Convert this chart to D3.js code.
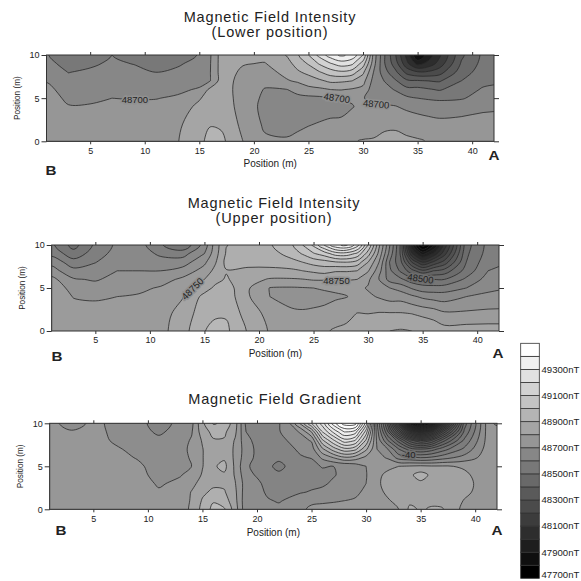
<!DOCTYPE html>
<html>
<head>
<meta charset="utf-8">
<script src="https://cdn.jsdelivr.net/npm/d3@7"></script>
<style>
  html, body { margin: 0; padding: 0; background: #fff; overflow: hidden; }
  text { font-family: "Liberation Sans", Arial, sans-serif; fill: #222; }
</style>
</head>
<body>
<svg id="chart" width="581" height="581"></svg>
<script>
// data (columns run from the top of the panel, y=10, down to y=0)
const xTicks = [5, 10, 15, 20, 25, 30, 35, 40];
const yTicks = [0, 5, 10];
const legendLabels = [47700, 47900, 48100, 48300, 48500, 48700, 48900, 49100, 49300];

const intensityX = [1, 3, 5, 7, 9, 11, 13, 15, 16, 17, 19, 21, 23, 24, 25, 26, 27, 28, 29, 30, 31, 32, 33, 34, 35, 36, 37, 39, 41, 43];
const intensityY = [10, 9, 8, 7, 6, 5, 4, 2, 0];

const lowerField = [
  [48610, 48635, 48660, 48695, 48725, 48735, 48750, 48770, 48780],
  [48510, 48560, 48598, 48630, 48660, 48685, 48705, 48740, 48760],
  [48540, 48585, 48615, 48640, 48665, 48690, 48705, 48735, 48750],
  [48600, 48615, 48640, 48660, 48680, 48700, 48720, 48745, 48755],
  [48580, 48597, 48625, 48650, 48675, 48697, 48715, 48745, 48760],
  [48540, 48570, 48600, 48635, 48670, 48697, 48720, 48755, 48775],
  [48560, 48590, 48615, 48650, 48685, 48710, 48745, 48780, 48795],
  [48605, 48625, 48650, 48675, 48708, 48790, 48825, 48865, 48880],
  [48690, 48695, 48697, 48698, 48825, 48845, 48855, 48895, 48925],
  [48840, 48840, 48840, 48840, 48845, 48850, 48860, 48885, 48925],
  [48815, 48805, 48785, 48770, 48760, 48760, 48760, 48775, 48800],
  [48830, 48795, 48760, 48725, 48695, 48680, 48670, 48685, 48715],
  [48905, 48865, 48830, 48790, 48698, 48680, 48660, 48670, 48710],
  [48990, 48935, 48885, 48815, 48725, 48680, 48660, 48680, 48725],
  [49100, 49010, 48925, 48850, 48770, 48675, 48665, 48695, 48735],
  [49230, 49110, 48990, 48880, 48780, 48680, 48665, 48705, 48745],
  [49350, 49190, 49050, 48920, 48800, 48700, 48670, 48715, 48755],
  [49420, 49250, 49080, 48915, 48805, 48710, 48670, 48720, 48760],
  [49370, 49220, 49050, 48900, 48790, 48710, 48695, 48745, 48795],
  [49200, 49050, 48920, 48835, 48770, 48705, 48725, 48760, 48805],
  [48750, 48730, 48690, 48660, 48640, 48670, 48715, 48780, 48805],
  [48500, 48500, 48535, 48595, 48635, 48670, 48710, 48785, 48820],
  [48300, 48340, 48420, 48510, 48590, 48655, 48705, 48785, 48825],
  [48070, 48130, 48270, 48420, 48530, 48620, 48680, 48770, 48815],
  [47790, 47970, 48215, 48410, 48530, 48600, 48665, 48750, 48810],
  [47950, 48030, 48220, 48400, 48510, 48590, 48650, 48740, 48795],
  [48080, 48140, 48260, 48390, 48490, 48585, 48640, 48730, 48780],
  [48380, 48410, 48450, 48500, 48555, 48590, 48660, 48730, 48770],
  [48520, 48530, 48550, 48575, 48610, 48640, 48685, 48730, 48770],
  [48555, 48560, 48570, 48590, 48620, 48650, 48690, 48730, 48770]
];

const upperField = [
  [48560, 48585, 48635, 48670, 48715, 48735, 48745, 48745, 48745],
  [48480, 48520, 48570, 48615, 48655, 48680, 48697, 48730, 48745],
  [48560, 48575, 48598, 48625, 48645, 48670, 48690, 48730, 48745],
  [48610, 48620, 48635, 48650, 48665, 48685, 48700, 48730, 48745],
  [48620, 48625, 48640, 48650, 48670, 48690, 48705, 48730, 48740],
  [48555, 48590, 48620, 48650, 48680, 48705, 48720, 48735, 48735],
  [48505, 48580, 48625, 48670, 48710, 48730, 48748, 48765, 48780],
  [48620, 48650, 48690, 48720, 48750, 48780, 48815, 48835, 48848],
  [48725, 48730, 48745, 48765, 48785, 48810, 48830, 48842, 48868],
  [48798, 48805, 48815, 48797, 48805, 48825, 48830, 48845, 48860],
  [48825, 48820, 48815, 48790, 48770, 48755, 48755, 48775, 48795],
  [48845, 48830, 48815, 48790, 48745, 48698, 48700, 48735, 48745],
  [48895, 48870, 48835, 48790, 48745, 48695, 48690, 48705, 48735],
  [48950, 48905, 48850, 48800, 48748, 48697, 48685, 48705, 48735],
  [49010, 48945, 48870, 48810, 48755, 48700, 48685, 48708, 48740],
  [49105, 48975, 48880, 48820, 48755, 48705, 48688, 48712, 48745],
  [49190, 49025, 48895, 48805, 48755, 48710, 48692, 48730, 48755],
  [49210, 49030, 48900, 48805, 48755, 48712, 48698, 48735, 48762],
  [49125, 48990, 48880, 48800, 48750, 48715, 48712, 48752, 48775],
  [48950, 48875, 48800, 48755, 48710, 48695, 48710, 48750, 48785],
  [48760, 48735, 48700, 48670, 48650, 48665, 48695, 48755, 48797],
  [48600, 48580, 48545, 48560, 48580, 48650, 48680, 48755, 48800],
  [48440, 48440, 48460, 48490, 48560, 48630, 48680, 48755, 48805],
  [48060, 48160, 48300, 48420, 48520, 48595, 48660, 48750, 48800],
  [47870, 48030, 48200, 48360, 48510, 48570, 48640, 48740, 48795],
  [47990, 48110, 48260, 48400, 48500, 48570, 48630, 48730, 48785],
  [48170, 48230, 48320, 48420, 48500, 48575, 48625, 48710, 48770],
  [48480, 48490, 48500, 48520, 48560, 48600, 48650, 48710, 48775],
  [48565, 48570, 48585, 48600, 48620, 48640, 48660, 48715, 48775],
  [48580, 48590, 48600, 48620, 48640, 48650, 48665, 48715, 48775]
];

const gradientX = [1, 3, 5, 7, 9, 11, 13, 14, 15, 16, 17, 18, 19, 20, 21, 22, 23, 24, 25, 26, 27, 28, 29, 30, 31, 32, 33, 34, 35, 36, 37, 39, 41, 43];
const gradientY = [10, 9, 8, 7, 6, 5, 4, 3, 2, 1, 0];

const gradientField = [
  [-7, -6, -5, -5, -5, -5, -5, -5, -5, -5, -5],
  [-14, -9, -6, -5, -5, -5, -5, -5, -5, -5, -5],
  [-8, -7, -7, -6, -6, -6, -5, -5, -5, -5, -5],
  [-12, -12, -11, -9, -7, -6, -5, -5, -5, -5, -5],
  [-15, -15, -14, -12, -10.5, -8, -7, -6, -5, -5, -5],
  [-26, -22, -17, -16, -15, -14, -13, -11, -9, -6, -5],
  [-16, -15, -14, -13, -13, -13, -10.5, -8, -6, -5, -5],
  [-13, -11, -9, -8, -9, -10, -7, -3, 0.5, 1, 2],
  [8, 5, 1, -0.5, -0.5, -0.5, 1, 4, 8, 11, 13],
  [21, 13, 9, 8, 7, 8.5, 6, 8, 12, 19, 23],
  [18, 12, 9, 8, 8.5, 13, 8.5, 8, 11, 15, 21],
  [4, 2, -1, -2, -2, -2, -1, 0.5, 2, 3, 5],
  [-22, -20, -17, -15, -16, -19, -17, -15, -16, -17, -17],
  [-24, -24, -23, -22, -22, -22, -21, -18, -16, -15, -15],
  [-25, -25, -25, -24, -24, -27, -24, -23, -22, -19, -16],
  [-21, -21, -23, -25, -27, -34, -27, -25, -23, -21, -17],
  [-10, -14, -19, -22, -24, -27, -25, -24, -23, -18, -15],
  [12, -9, -14, -18, -21, -24, -24, -24, -21, -13, -11],
  [40, 10, -9, -15, -19.5, -24, -24, -23, -19, -11, -9],
  [65, 50, 28, 8, -8, -19, -24, -22, -17, -11, -8],
  [95, 72, 48, 25, 0, -20, -21, -18, -15, -10.5, -8],
  [115, 90, 66, 37, 8, -19, -17, -15, -13, -10, -7],
  [115, 85, 60, 33, 5, -16, -13, -13, -12, -9, -6],
  [65, 45, 28, 12, -3, -10, -10.5, -10, -8, -7, -5],
  [-18, -15, -12, -10, -7, -6, -3, -2, -3, -4, -3],
  [-75, -60, -40, -20, -11, -3, 3, 4, 2, -1, -2],
  [-150, -110, -65, -40, -24, 0, 5, 6, 5, 3, 0],
  [-240, -160, -95, -55, -27, 1, 8, 6, 7, 8, 12],
  [-290, -190, -110, -60, -30, 2, 14, 8, 7, 8, 9],
  [-255, -165, -100, -55, -28, 1, 8, 5, 6, 8, 11],
  [-175, -120, -75, -45, -24, 1, 4, 5, 6, 8, 10.5],
  [-55, -48, -38, -28, -16, -1, 1.5, 3, 2, -0.5, -3],
  [-9, -9, -8.5, -7, -6, -5, -4, -4, -4, -4, -4],
  [-12, -8, -7, -6, -5, -5, -5, -5, -5, -5, -5]
];

const lowerLabels = [
  { text: "48700", x: 9.1, y: 4.85, angle: 0 },
  { text: "48700", x: 27.6, y: 5, angle: 8 },
  { text: "48700", x: 31.2, y: 4.3, angle: 5 }
];
const upperLabels = [
  { text: "48750", x: 13.9, y: 4.9, angle: -45 },
  { text: "48750", x: 27.1, y: 5.85, angle: 0 },
  { text: "48500", x: 34.8, y: 6.1, angle: 8 }
];
const gradientLabels = [{ text: "-40", x: 33.9, y: 6.4, angle: 0 }];

// greys
const lowerGrey = d3.scaleLinear().domain([47750, 49450]).range([0, 255]).clamp(true);
const upperGrey = d3.scaleLinear().domain([47900, 49200]).range([0, 245]).clamp(true);
const gradientGrey = d3
  .scaleLinear()
  .domain([-290, -60, -20, 0, 40, 110])
  .range([0, 105, 136, 156, 206, 255])
  .clamp(true);
const grey = (v) => d3.rgb(v, v, v).formatHex();

const svg = d3.select("#chart");

drawPanel({
  id: "lower",
  box: [46.5, 494, 55, 141.3],
  xs: intensityX,
  ys: intensityY,
  columns: lowerField,
  levels: d3.range(47700, 49600, 100),
  toGrey: lowerGrey,
  labels: lowerLabels,
  title: ["Magnetic Field Intensity", "(Lower position)"],
  titleX: 270,
  titleY: 22,
  a: [494, 160],
  b: [51, 175],
  axisLabelY: 167
});
drawPanel({
  id: "upper",
  box: [51.7, 499, 245, 331],
  xs: intensityX,
  ys: intensityY,
  columns: upperField,
  levels: d3.range(47850, 49300, 50),
  toGrey: upperGrey,
  labels: upperLabels,
  title: ["Magnetic Field Intensity", "(Upper position)"],
  titleX: 274,
  titleY: 208,
  a: [498, 358],
  b: [57, 361],
  axisLabelY: 357
});
drawPanel({
  id: "gradient",
  box: [49.7, 497, 423.3, 509.3],
  xs: gradientX,
  ys: gradientY,
  columns: gradientField,
  levels: d3.range(-300, 140, 10),
  toGrey: gradientGrey,
  labels: gradientLabels,
  title: ["Magnetic Field Gradient"],
  titleX: 275,
  titleY: 404,
  a: [497, 535],
  b: [61, 535],
  axisLabelY: 536
});
drawLegend();

function drawPanel(p) {
  const [left, right, top, bottom] = p.box;
  const x = d3.scaleLinear().domain([1, 42]).range([left, right]);
  const y = d3.scaleLinear().domain([0, 10]).range([bottom, top]);

  // one extra row and column all round, so the bands run out past the frame
  const xp = [p.xs[0] - 2, ...p.xs, p.xs[p.xs.length - 1] + 2];
  const yp = [p.ys[0] + 2, ...p.ys, p.ys[p.ys.length - 1] - 2];
  const n = xp.length;
  const m = yp.length;
  const flat = [];
  for (let j = 0; j < m; j++) {
    const row = Math.min(Math.max(j - 1, 0), p.ys.length - 1);
    for (let i = 0; i < n; i++) {
      const col = Math.min(Math.max(i - 1, 0), p.xs.length - 1);
      flat.push(p.columns[col][row]);
    }
  }
  const xOf = d3.scaleLinear().domain(d3.range(n)).range(xp);
  const yOf = d3.scaleLinear().domain(d3.range(m)).range(yp);

  const clipId = "clip-" + p.id;
  svg
    .append("clipPath")
    .attr("id", clipId)
    .append("rect")
    .attr("x", left)
    .attr("y", top)
    .attr("width", right - left)
    .attr("height", bottom - top);

  const g = svg.append("g").attr("clip-path", "url(#" + clipId + ")");
  const step = p.levels[1] - p.levels[0];

  g.append("rect")
    .attr("x", left)
    .attr("y", top)
    .attr("width", right - left)
    .attr("height", bottom - top)
    .attr("fill", grey(p.toGrey(p.levels[0] - step / 2)));

  const line = d3
    .line()
    .x((d) => x(xOf(d[0] - 0.5)))
    .y((d) => y(yOf(d[1] - 0.5)))
    .curve(d3.curveCatmullRomClosed.alpha(0.5));

  const bands = d3.contours().size([n, m]).thresholds(p.levels)(flat);

  g.selectAll("path.band")
    .data(bands)
    .enter()
    .append("path")
    .attr("class", "band")
    .attr("d", (d) =>
      d.coordinates
        .flat()
        .map((ring) => line(ring.slice(0, -1)))
        .join("")
    )
    .attr("fill-rule", "evenodd")
    .attr("fill", (d) => grey(p.toGrey(d.value + step / 2)))
    .attr("stroke", "#2a2a2a")
    .attr("stroke-width", 0.8);

  // contour labels sit in a gap of the line
  g.selectAll("text.level")
    .data(p.labels)
    .enter()
    .append("text")
    .attr("class", "level")
    .attr("transform", (d) => "translate(" + x(d.x) + "," + y(d.y) + ") rotate(" + d.angle + ")")
    .attr("text-anchor", "middle")
    .attr("dy", "0.35em")
    .style("font-size", "9.5px")
    .style("paint-order", "stroke")
    .style("stroke", (d) => (d.text === "48500" || d.text === "-40" ? "#6e6e6e" : "#909090"))
    .style("stroke-width", "3px")
    .text((d) => d.text);

  // frame
  svg
    .append("rect")
    .attr("x", left)
    .attr("y", top)
    .attr("width", right - left)
    .attr("height", bottom - top)
    .attr("fill", "none")
    .attr("stroke", "#333")
    .attr("stroke-width", 1);

  // axes
  const axes = [
    [d3.axisBottom(x).tickValues(xTicks).tickSize(3).tickPadding(3), 0, bottom],
    [d3.axisTop(x).tickValues(xTicks).tickSize(3).tickFormat(""), 0, top],
    [d3.axisLeft(y).tickValues(yTicks).tickSize(5).tickPadding(2), left, 0],
    [d3.axisRight(y).tickValues(yTicks).tickSize(5).tickFormat(""), right, 0]
  ];
  axes.forEach(([axis, tx, ty]) => {
    const a = svg
      .append("g")
      .attr("transform", "translate(" + tx + "," + ty + ")")
      .call(axis);
    a.select(".domain").remove();
    a.selectAll("line").attr("stroke", "#333");
    a.selectAll("text").style("font-size", "9px").attr("fill", "#222");
  });

  // titles
  p.title.forEach((t, i) => {
    svg
      .append("text")
      .attr("x", p.titleX)
      .attr("y", p.titleY + i * 15)
      .attr("text-anchor", "middle")
      .style("font-size", "14.5px")
      .style("letter-spacing", "0.85px")
      .text(t);
  });
  svg
    .append("text")
    .attr("x", (left + right) / 2)
    .attr("y", p.axisLabelY)
    .attr("text-anchor", "middle")
    .style("font-size", "10px")
    .text("Position (m)");
  svg
    .append("text")
    .attr("transform", "translate(" + (left - 27) + "," + (top + bottom) / 2 + ") rotate(-90)")
    .attr("text-anchor", "middle")
    .style("font-size", "8.2px")
    .text("Position (m)");

  [["A", p.a], ["B", p.b]].forEach(([t, pos]) => {
    svg
      .append("text")
      .attr("x", pos[0])
      .attr("y", pos[1])
      .attr("text-anchor", "middle")
      .style("font-size", "13px")
      .style("font-weight", "bold")
      .attr("textLength", 11)
      .attr("lengthAdjust", "spacingAndGlyphs")
      .text(t);
  });
}

function drawLegend() {
  const y = d3.scaleLinear().domain([47700, 49500]).range([578.3, 343.3]);
  const boxes = d3.range(47700, 49500, 100);
  const fill = d3.scaleLinear().domain([47700, 49400]).range([0, 255]);
  svg
    .selectAll("rect.key")
    .data(boxes)
    .enter()
    .append("rect")
    .attr("class", "key")
    .attr("x", 520.7)
    .attr("width", 18.6)
    .attr("y", (d) => y(d + 100))
    .attr("height", (d) => y(d) - y(d + 100))
    .attr("fill", (d) => grey(fill(d)))
    .attr("stroke", "#333")
    .attr("stroke-width", 0.8);
  svg
    .selectAll("text.key")
    .data(legendLabels)
    .enter()
    .append("text")
    .attr("class", "key")
    .attr("x", 541.5)
    .attr("y", (d) => Math.min(y(d), 575))
    .attr("dy", "0.35em")
    .style("font-size", "9.6px")
    .text((d) => d + "nT");
}
</script>
</body>
</html>
